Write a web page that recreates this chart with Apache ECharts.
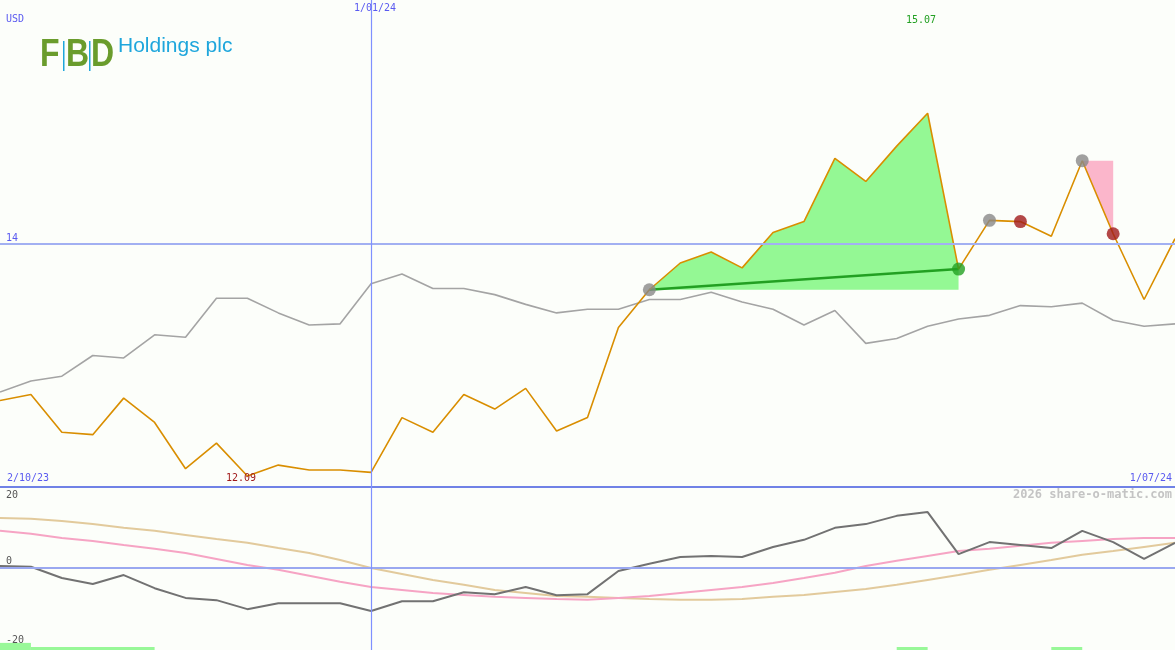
<!DOCTYPE html>
<html><head><meta charset="utf-8">
<script src="https://cdn.jsdelivr.net/npm/echarts@6/dist/echarts.min.js"></script>
<style>html,body{margin:0;padding:0;background:#fcfefa;}#c{width:1175px;height:650px;}</style>
</head><body><div id="c"></div>
<script>
const categories = Array.from({length: 39}, (_, i) => 'w' + i);
const price = [12.71,12.76,12.45,12.43,12.73,12.53,12.15,12.36,12.09,12.18,12.14,12.14,12.12,12.57,12.45,12.76,12.64,12.81,12.46,12.57,
  13.31,13.62,13.84,13.93,13.80,14.09,14.18,14.70,14.51,14.80,15.07,13.79,14.19,14.18,14.06,14.68,14.08,13.54,14.04];
const index = [12.78,12.87,12.91,13.08,13.06,13.25,13.23,13.55,13.55,13.43,13.33,13.34,13.67,13.75,13.63,13.63,13.58,13.50,13.43,13.46,
  13.46,13.54,13.54,13.60,13.52,13.46,13.33,13.45,13.18,13.22,13.32,13.38,13.41,13.49,13.48,13.51,13.37,13.32,13.34];
const momentum = [0.4,0.2,-2.8,-4.4,-2.0,-5.5,-8.1,-8.7,-11.1,-9.5,-9.5,-9.5,-11.6,-9.0,-9.0,-6.6,-7.1,-5.2,-7.4,-7.1,
  -0.9,1.0,2.8,3.1,2.8,5.5,7.4,10.6,11.6,13.8,14.8,3.6,6.8,6.0,5.2,9.8,6.8,2.3,6.6];
const pinkAvg = [9.8,9.0,7.9,7.1,6.0,5.0,3.9,2.3,0.7,-0.6,-2.2,-3.8,-5.2,-6.0,-6.8,-7.3,-7.8,-8.1,-8.4,-8.6,
  -8.1,-7.6,-6.8,-6.0,-5.2,-4.1,-2.8,-1.4,0.4,1.8,3.1,4.4,5.0,5.8,6.6,7.1,7.6,7.9,7.9];
const tanAvg = [13.2,13.0,12.4,11.6,10.6,9.8,8.7,7.6,6.6,5.2,3.9,2.0,-0.1,-1.7,-3.3,-4.6,-6.0,-6.8,-7.6,-7.8,
  -8.1,-8.4,-8.6,-8.6,-8.4,-7.8,-7.3,-6.5,-5.7,-4.6,-3.3,-2.0,-0.6,0.7,2.0,3.4,4.4,5.5,6.6];
const trades = [[21,31],[32,33],[35,36]];
const signalBlocks = [[0,1,-20.1],[1,5,-21.2],[29,30,-21.2],[34,35,-21.2]];
const yearStartIdx = 12;

const N = categories.length;
const blank = () => new Array(N).fill('-');
const fillSeries = [];
const tradeLines = [];
const entryPts = [], winPts = [], lossPts = [];
trades.forEach(([a,b], k) => {
  const e = price[a];
  const win = price[b] > e;
  const base = blank(), diff = blank();
  for (let i = a; i <= b; i++) {
    if (win) { base[i] = e; diff[i] = +(price[i] - e).toFixed(3); }
    else { base[i] = price[i]; diff[i] = +(e - price[i]).toFixed(3); }
  }
  fillSeries.push({type:'line', xAxisIndex:0, yAxisIndex:0, stack:'t'+k, data:base, symbol:'none', lineStyle:{opacity:0}, silent:true, z:1});
  fillSeries.push({type:'line', xAxisIndex:0, yAxisIndex:0, stack:'t'+k, data:diff, symbol:'none', lineStyle:{opacity:0},
    areaStyle:{color: win ? '#94f894' : '#fbb6cb', opacity:1}, silent:true, z:1});
  if (win) {
    const l = blank(); l[a] = e; l[b] = price[b];
    tradeLines.push({type:'line', xAxisIndex:0, yAxisIndex:0, data:l, connectNulls:true, symbol:'none',
      lineStyle:{color:'#22a022', width:2.5}, z:3});
  }
  entryPts.push([a, e]);
  (win ? winPts : lossPts).push([b, price[b]]);
});

const mono = 'DejaVu Sans Mono';
const txt = (x, y, s, color, align, size, weight) => ({type:'text', left: align === 'right' ? undefined : x, right: align === 'right' ? 1175 - x : undefined, top: y,
  style:{text:s, fill:color, font:(weight||'normal') + ' ' + (size||10) + 'px "' + mono + '"'}, z:20});
const logoLetter = (x, s) => ({type:'text', x:x, y:36, scaleX:0.82, style:{text:s, fill:'#6a9c2c', font:'bold 39px "Liberation Sans"'}, z:20});

const chart = echarts.init(document.getElementById('c'));
chart.setOption({
  animation:false,
  backgroundColor:'#fcfefa',
  grid:[{left:0, right:0, top:0, height:487}, {left:0, right:0, top:487, height:163}],
  xAxis:[
    {type:'category', gridIndex:0, data:categories, boundaryGap:false, axisLabel:{show:false}, axisTick:{show:false},
      axisLine:{show:true, onZero:false, lineStyle:{color:'#7082e6', width:2}}, splitLine:{show:false}},
    {type:'category', gridIndex:1, data:categories, boundaryGap:false, axisLabel:{show:false}, axisTick:{show:false},
      axisLine:{show:false}, splitLine:{show:false}}
  ],
  yAxis:[
    {type:'value', gridIndex:0, min:12, max:16, axisLabel:{show:false}, axisLine:{show:false}, axisTick:{show:false}, splitLine:{show:false}},
    {type:'value', gridIndex:1, min:-22, max:21.5, axisLabel:{show:false}, axisLine:{show:false}, axisTick:{show:false}, splitLine:{show:false}}
  ],
  series:[
    ...fillSeries,
    {type:'line', name:'index', xAxisIndex:0, yAxisIndex:0, data:index, symbol:'none', lineStyle:{color:'#a4a4a4', width:1.6}, z:2,
      markLine:{silent:true, symbol:'none', label:{show:false},
        data:[{yAxis:14, lineStyle:{color:'#a2b0f2', width:2, type:'solid'}},
              {xAxis:yearStartIdx, lineStyle:{color:'#7f90ff', width:1.2, type:'solid', opacity:1}}]}},
    {type:'line', name:'price', xAxisIndex:0, yAxisIndex:0, data:price, symbol:'none', lineStyle:{color:'#d98e00', width:1.6}, z:4},
    ...tradeLines,
    {type:'scatter', xAxisIndex:0, yAxisIndex:0, data:entryPts, symbolSize:13, itemStyle:{color:'#888888'}, z:6},
    {type:'scatter', xAxisIndex:0, yAxisIndex:0, data:winPts, symbolSize:13, itemStyle:{color:'#22a022'}, z:6},
    {type:'scatter', xAxisIndex:0, yAxisIndex:0, data:lossPts, symbolSize:13, itemStyle:{color:'#a01a1a'}, z:6},
    {type:'line', xAxisIndex:1, yAxisIndex:1, data:tanAvg, symbol:'none', lineStyle:{color:'#e2ca9c', width:2}, z:2,
      markLine:{silent:true, symbol:'none', label:{show:false},
        data:[{yAxis:0, lineStyle:{color:'#9aa8f0', width:2, type:'solid'}},
              {xAxis:yearStartIdx, lineStyle:{color:'#7f90ff', width:1.2, type:'solid', opacity:1}}]},
      markArea:{silent:true, itemStyle:{color:'#98f898'},
        data: signalBlocks.map(([a,b,t]) => [{xAxis:a, yAxis:-22}, {xAxis:b, yAxis:t}])}},
    {type:'line', xAxisIndex:1, yAxisIndex:1, data:pinkAvg, symbol:'none', lineStyle:{color:'#f6a4c4', width:2}, z:3},
    {type:'line', xAxisIndex:1, yAxisIndex:1, data:momentum, symbol:'none', lineStyle:{color:'#727272', width:2}, z:4}
  ],
  graphic:[
    txt(6, 14, 'USD', '#5a5af0', 'left', 10),
    txt(354, 3, '1/01/24', '#5a5af0', 'left', 10),
    txt(906, 15, '15.07', '#22a022', 'left', 10),
    txt(6, 233, '14', '#5a5af0', 'left', 10),
    txt(7, 473, '2/10/23', '#5a5af0', 'left', 10),
    txt(226, 473, '12.09', '#a01a1a', 'left', 10),
    txt(1172, 473, '1/07/24', '#5a5af0', 'right', 10),
    txt(1172, 489, '2026 share-o-matic.com', '#c4c4c4', 'right', 12, 'bold'),
    txt(6, 490, '20', '#555555', 'left', 10),
    txt(6, 556, '0', '#555555', 'left', 10),
    txt(6, 635, '-20', '#555555', 'left', 10),
    logoLetter(40, 'F'),
    logoLetter(66, 'B'),
    logoLetter(91, 'D'),
    {type:'rect', shape:{x:63, y:41, width:1.5, height:30}, style:{fill:'#1ea6dc'}, z:20},
    {type:'rect', shape:{x:89, y:41, width:1.5, height:30}, style:{fill:'#1ea6dc'}, z:20},
    {type:'text', left:118, top:36, style:{text:'Holdings plc', fill:'#1ea6dc', font:'21px "Liberation Sans"'}, z:20}
  ]
});
</script></body></html>
